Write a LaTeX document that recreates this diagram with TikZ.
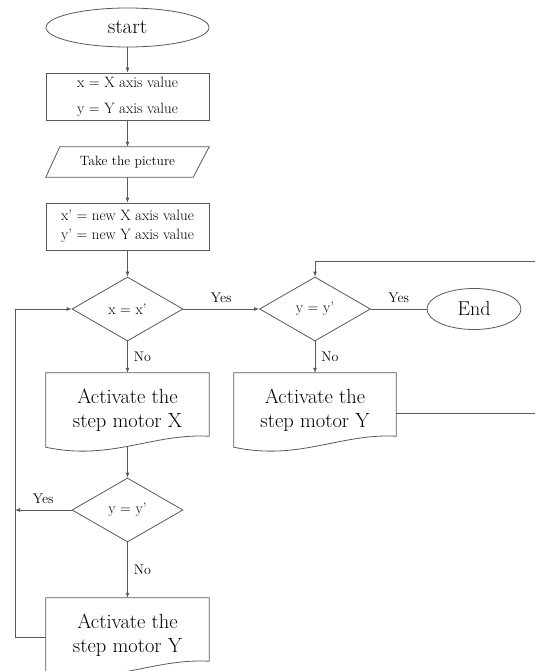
\documentclass[tikz,border=0pt]{standalone}
\usetikzlibrary{shapes.geometric,arrows.meta,calc}
\begin{document}
\begin{tikzpicture}[x=1pt,y=-1pt,
  line/.style={draw=black!65, line width=0.8pt},
  arr/.style={line, -{Latex[length=5pt,width=4pt]}},
  term/.style={ellipse, draw=black!65, line width=0.8pt, inner sep=0pt},
  procbox/.style={rectangle, draw=black!65, line width=0.8pt, minimum width=163pt, minimum height=47pt, inner sep=0pt, align=center},
  iobox/.style={rectangle, minimum width=163pt, minimum height=30pt, inner sep=0pt, font=\fontsize{13.5}{16}\selectfont},
  docbox/.style={rectangle, minimum width=163pt, minimum height=74pt, inner sep=0pt, align=center, font=\fontsize{20.5}{24}\selectfont},
  decision/.style={diamond, draw=black!65, line width=0.8pt, minimum width=111pt, minimum height=64pt, inner sep=0pt, aspect=1.73, font=\fontsize{15}{18}\selectfont},
  lbl/.style={font=\fontsize{14}{16}\selectfont, inner sep=0pt}
]
\useasboundingbox (0,0) rectangle (535,671);

% nodes
\node[term, minimum width=163pt, minimum height=39pt, font=\fontsize{21}{24}\selectfont] (start) at (127.5,27.5) {start};
\node[procbox, font=\fontsize{15}{26}\selectfont] (b1) at (127.5,96.5) {x = X axis value\\y = Y axis value};
\node[iobox] (pic) at (127.5,162) {Take the picture};
\node[procbox, font=\fontsize{15}{19}\selectfont] (b2) at (127.5,226.5) {x' = new X axis value\\y' = new Y axis value};
\node[decision] (d1) at (127.5,309) {x = x'};
\node[decision] (d3) at (315,309) {y = y'};
\node[term, minimum width=94pt, minimum height=41pt, font=\fontsize{20}{24}\selectfont] (end) at (474,309) {End};
\node[docbox] (dx) at (127.5,410) {Activate the\\step motor X};
\node[docbox, minimum width=162pt] (dy1) at (315,410) {Activate the\\step motor Y};
\node[decision] (d2) at (127.5,510) {y = y'};
\node[docbox] (dy2) at (127.5,635) {Activate the\\step motor Y};

% parallelogram outline
\draw[line] ($(pic.north west)+(14,0)$) -- (pic.north east) -- ($(pic.south east)+(-16,0)$) -- (pic.south west) -- cycle;

% document outlines
\foreach \n in {dx,dy1,dy2}{
  \draw[line] (\n.north west) -- (\n.north east) -- ($(\n.south east)+(0,-11)$)
    .. controls ($(\n.south west)+(106,-14)$) and ($(\n.south west)+(65,14)$) .. (\n.south west) -- cycle;
}

% connectors
\draw[arr] (start) -- (b1);
\draw[arr] (b1) -- (pic);
\draw[arr] (pic) -- (b2);
\draw[arr] (b2) -- (d1);
\draw[arr] (d1) -- (d3) node[lbl, midway, above=6pt] {Yes};
\draw[line] (d3) -- (end) node[lbl, midway, above=6pt] {Yes};
\draw[arr] (d1) -- (dx) node[lbl, midway, right=6pt] {No};
\draw[arr] (d3) -- (dy1) node[lbl, midway, right=6pt] {No};
\draw[arr] ($(dx.south)+(0,-1)$) -- (d2);
\draw[arr] (d2) -- (dy2) node[lbl, midway, right=6pt] {No};

\coordinate (ea) at (535,413);
\coordinate (eb) at (535,261);
\draw[line] (dy1.east |- ea) -- (ea);
\draw[arr] (eb) -| (d3.north);

\coordinate (lb) at (15,637);
\coordinate (lt) at (15,309);
\draw[arr] (d2.west) -- (d2.west -| lb) node[lbl, midway, above=6pt] {Yes};
\draw[arr] (dy2.west |- lb) -- (lb) -- (lt) -- (d1.west);
\end{tikzpicture}
\end{document}
